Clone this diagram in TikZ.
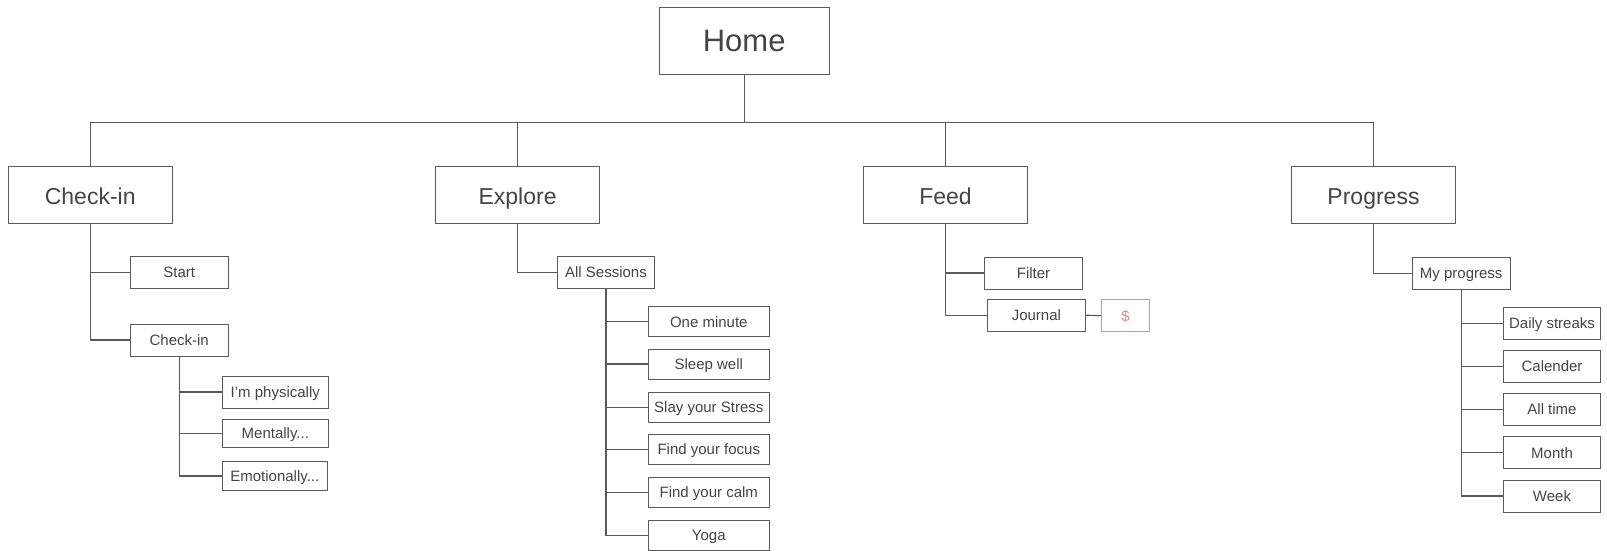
\documentclass[tikz,border=0pt]{standalone}
\usepackage{fontspec}
\setmainfont{Liberation Sans}
\usetikzlibrary{calc, positioning}

\definecolor{boxgray}{HTML}{5A5A5A}
\definecolor{textgray}{HTML}{444444}
\definecolor{paid}{HTML}{F08A72}

\begin{document}
\begin{tikzpicture}[x=1pt, y=-1pt]
			\tikzstyle{page} = [draw=boxgray, line width=0.9pt, rectangle, inner sep=0pt, text=textgray, align=center, text depth=0pt]
			\tikzstyle{home} = [page, minimum width=170pt, minimum height=66.7pt, text height=22.2pt, font=\fontsize{31}{36}\selectfont]
			\tikzstyle{tab} = [page, minimum width=164.4pt, minimum height=57pt, text height=19.2pt, font=\fontsize{23}{27}\selectfont]
			\tikzstyle{sub} = [page, minimum height=32pt, text height=10.7pt, font=\fontsize{15}{18}\selectfont]
			\tikzstyle{link} = [draw=boxgray, line width=1.1pt]
			\useasboundingbox (0,0) rectangle (1607,551);
			
			% top
			\node[home] 	at (744.2, 40.7) 	(home) 	{Home};
			\coordinate (bus) at (0, 122.7);
			
			\node[tab] 	at (90.2, 194.8) 	(checkin) 	{Check-in};
			\node[tab] 	at (517.6, 194.8) 	(explore) 	{Explore};
			\node[tab] 	at (945.5, 194.8) 	(feed) 	{Feed};
			\node[tab] 	at (1373.5, 194.8) 	(progress) 	{Progress};
			
			% check-in
			\node[sub, minimum width=97.5pt] 	at (179.2, 272.5) 	(start) 	{Start};
			\node[sub, minimum width=97.5pt] 	at (179.2, 340) 	(checkinsub) 	{Check-in};
			\node[sub, minimum width=106.6pt] 	at (275.3, 392) 	(physically) 	{I’m physically};
			\node[sub, minimum width=106.6pt, minimum height=28pt] 	at (275.3, 433.5) 	(mentally) 	{Mentally...};
			\node[sub, minimum width=105.5pt, minimum height=28.6pt] 	at (274.8, 476) 	(emotionally) 	{Emotionally...};
			
			% explore
			\node[sub, minimum width=97.6pt] 	at (606, 272.3) 	(allsessions) 	{All Sessions};
			\node[sub, minimum width=121.7pt, minimum height=30pt] 	at (708.8, 321.7) 	(oneminute) 	{One minute};
			\node[sub, minimum width=121.7pt, minimum height=30pt] 	at (708.8, 364) 	(sleepwell) 	{Sleep well};
			\node[sub, minimum width=121.7pt, minimum height=30pt] 	at (708.8, 407.5) 	(stress) 	{Slay your Stress};
			\node[sub, minimum width=121.7pt, minimum height=30pt] 	at (708.8, 449.3) 	(focus) 	{Find your focus};
			\node[sub, minimum width=121.7pt, minimum height=30pt] 	at (708.8, 492.3) 	(calm) 	{Find your calm};
			\node[sub, minimum width=121.7pt, minimum height=30pt] 	at (708.8, 535.3) 	(yoga) 	{Yoga};
			
			% feed
			\node[sub, minimum width=98.4pt] 	at (1033.5, 273) 	(filter) 	{Filter};
			\node[sub, minimum width=98pt] 	at (1036.4, 315.2) 	(journal) 	{Journal};
			\node[sub, draw=paid, text=paid, minimum width=48.4pt] 	at (1125.5, 315.7) 	(paywall) 	{\$};
			
			% progress
			\node[sub, minimum width=97.7pt] 	at (1461.2, 273.2) 	(myprogress) 	{My progress};
			\node[sub, minimum width=97.4pt] 	at (1552, 323.2) 	(streaks) 	{Daily streaks};
			\node[sub, minimum width=97.4pt] 	at (1552, 366.3) 	(calender) 	{Calender};
			\node[sub, minimum width=97.4pt] 	at (1552, 409.5) 	(alltime) 	{All time};
			\node[sub, minimum width=97.4pt] 	at (1552, 452.7) 	(month) 	{Month};
			\node[sub, minimum width=97.4pt] 	at (1552, 496) 	(week) 	{Week};
			
			\draw[link] (home.south) -- (home.south |- bus) -| (checkin.north);
			\draw[link] (home.south |- bus) -| (explore.north);
			\draw[link] (home.south |- bus) -| (feed.north);
			\draw[link] (home.south |- bus) -| (progress.north);
			
			\draw[link] (checkin.south) |- (start.west);
			\draw[link] (checkin.south) |- (checkinsub.west);
			\draw[link] (checkinsub.south) |- (physically.west);
			\draw[link] (checkinsub.south) |- (mentally.west);
			\draw[link] (checkinsub.south) |- (emotionally.west);
			
			\draw[link] (explore.south) |- (allsessions.west);
			\draw[link] (allsessions.south) |- (oneminute.west);
			\draw[link] (allsessions.south) |- (sleepwell.west);
			\draw[link] (allsessions.south) |- (stress.west);
			\draw[link] (allsessions.south) |- (focus.west);
			\draw[link] (allsessions.south) |- (calm.west);
			\draw[link] (allsessions.south) |- (yoga.west);
			
			\draw[link] (feed.south) |- (filter.west);
			\draw[link] (feed.south) |- (journal.west);
			\draw[link] (journal.east) -- (paywall.west);
			
			\draw[link] (progress.south) |- (myprogress.west);
			\draw[link] (myprogress.south) |- (streaks.west);
			\draw[link] (myprogress.south) |- (calender.west);
			\draw[link] (myprogress.south) |- (alltime.west);
			\draw[link] (myprogress.south) |- (month.west);
			\draw[link] (myprogress.south) |- (week.west);
\end{tikzpicture}
\end{document}
